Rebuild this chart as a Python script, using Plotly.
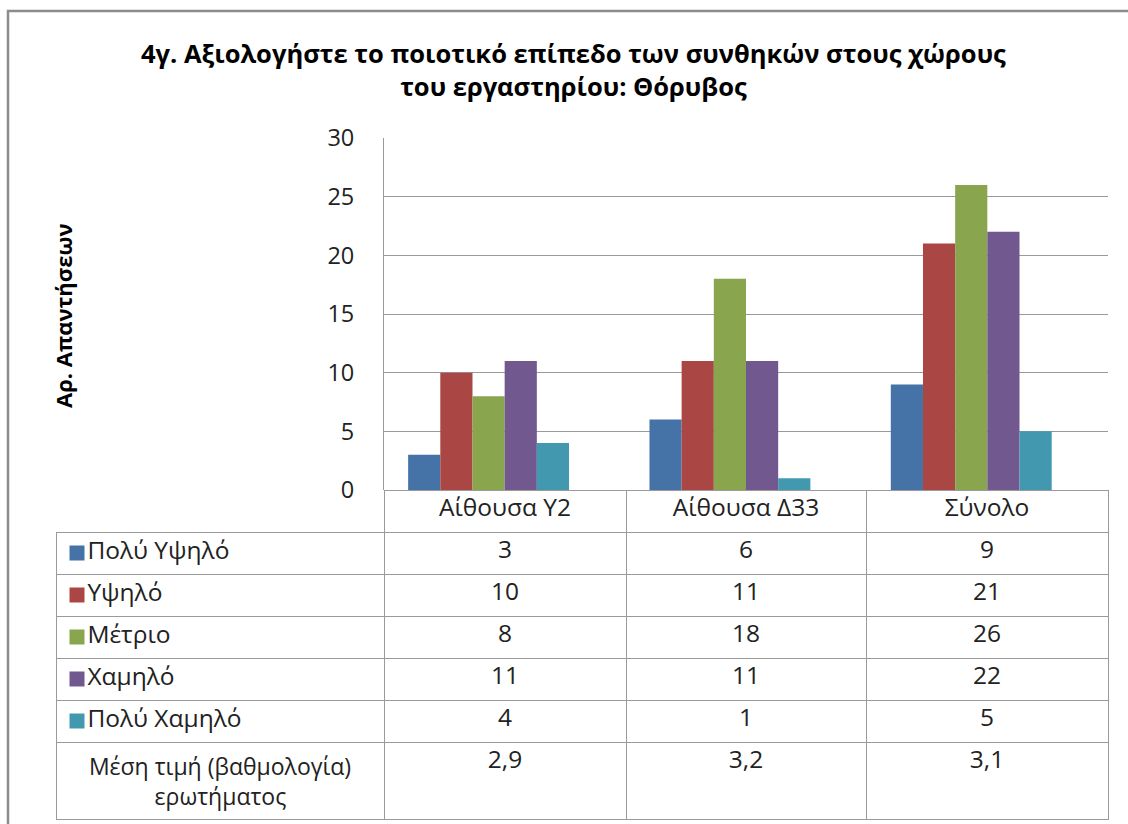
import plotly.graph_objects as go

categories = ["Αίθουσα Υ2", "Αίθουσα Δ33", "Σύνολο"]
series_names = ["Πολύ Υψηλό", "Υψηλό", "Μέτριο", "Χαμηλό", "Πολύ Χαμηλό"]
poly_ypsilo = [3, 6, 9]
ypsilo = [10, 11, 21]
metrio = [8, 18, 26]
xamilo = [11, 11, 22]
poly_xamilo = [4, 1, 5]
mean_label_lines = ["Μέση τιμή (βαθμολογία)", "ερωτήματος"]
mean_values = [2.9, 3.2, 3.1]
colors = ["#4572A7", "#AA4643", "#89A54E", "#71588F", "#4198AF"]

title_text = "4γ. Αξιολογήστε το ποιοτικό επίπεδο των συνθηκών στους χώρους<br>του εργαστηρίου: Θόρυβος"
y_title = "Αρ. Απαντήσεων"

W, H = 1128, 824
FONT = "Open Sans"
GRID = "#9a9a9a"
TXT = "#222"
TFS = 24.5  # table text size

series_values = [poly_ypsilo, ypsilo, metrio, xamilo, poly_xamilo]

fig = go.Figure()
for name, vals, col in zip(series_names, series_values, colors):
    fig.add_trace(go.Bar(x=categories, y=vals, name=name, marker=dict(color=col, line=dict(width=0)),
                         showlegend=False))
# mean series occupies a bar slot but has no fill (as in the original chart)
fig.add_trace(go.Bar(x=categories, y=mean_values, name="Μέση τιμή", opacity=0,
                     marker=dict(color="white", line=dict(width=0)),
                     showlegend=False, hoverinfo="skip"))

# legend keys + series names of the data table rows
fig.add_trace(go.Scatter(x=[21] * len(series_names), y=list(range(len(series_names))),
                         xaxis="x2", yaxis="y2", mode="markers+text",
                         text=series_names, textposition="middle right",
                         textfont=dict(family=FONT, size=TFS, color=TXT),
                         marker=dict(symbol="square", size=15, color=colors, line=dict(width=0)),
                         showlegend=False, hoverinfo="skip"))

# data table
def fmt(v):
    return ("%g" % v).replace(".", ",")

mean_label = mean_label_lines[0] + "<br>" + "&nbsp;" * 11 + mean_label_lines[1]
col_values = [[""] * len(series_names) + [mean_label]]
for i in range(len(categories)):
    col_values.append([str(s[i]) for s in series_values] + [fmt(mean_values[i])])

fig.add_trace(go.Table(
    domain=dict(x=[56 / W, 1108 / W], y=[1 - 822 / H, 1 - 490 / H]),
    columnwidth=[328, 242, 240, 242],
    header=dict(values=[""] + categories,
                fill=dict(color=["rgba(0,0,0,0)", "white", "white", "white"]),
                line=dict(color=["rgba(0,0,0,0)", GRID, GRID, GRID], width=1),
                font=dict(family=FONT, size=TFS, color=TXT),
                align="center", height=42),
    cells=dict(values=col_values,
               fill=dict(color=["rgba(0,0,0,0)", "white", "white", "white"]),
               line=dict(color=GRID, width=1),
               font=dict(family=FONT, size=[23, TFS, TFS, TFS], color=TXT),
               align="center",
               height=42),
))

fig.update_layout(
    width=W, height=H,
    margin=dict(l=0, r=0, t=0, b=0, autoexpand=False),
    paper_bgcolor="white", plot_bgcolor="rgba(0,0,0,0)",
    barmode="group", bargap=0.2, bargroupgap=0,
    font=dict(family=FONT, size=23, color=TXT),
    xaxis=dict(domain=[384 / W, 1108 / W], showticklabels=False, showgrid=False,
               showline=False, zeroline=False, ticks="", automargin=False),
    yaxis=dict(domain=[1 - 490 / H, 1 - 138 / H], range=[0, 30], dtick=5,
               showgrid=True, gridcolor=GRID, gridwidth=1,
               showline=True, linecolor=GRID, linewidth=1,
               zeroline=True, zerolinecolor=GRID, zerolinewidth=1,
               ticks="", ticklabelstandoff=24, automargin=False,
               tickfont=dict(family=FONT, size=23.5, color=TXT)),
    xaxis2=dict(domain=[56 / W, 384 / W], range=[0, 328], visible=False, automargin=False,
                fixedrange=True),
    yaxis2=dict(domain=[1 - 742 / H, 1 - 532 / H], range=[4.5, -0.5], visible=False,
                automargin=False, fixedrange=True),
    annotations=[
        dict(text="<b>%s</b>" % title_text.replace("<br>", "</b><br><b>"), x=573 / W, y=1 - 70 / H,
             xref="paper", yref="paper", xanchor="center", yanchor="middle",
             showarrow=False, font=dict(family=FONT, size=25.5, color="#000")),
        dict(text="<b>%s</b>" % y_title, x=63 / W, y=1 - 316 / H, xref="paper", yref="paper",
             xanchor="center", yanchor="middle", textangle=-90, showarrow=False,
             font=dict(family=FONT, size=22, color="#000")),
    ],
    shapes=[
        dict(type="rect", xref="paper", yref="paper", x0=8 / W, x1=1.02, y0=-0.02, y1=1 - 11 / H,
             line=dict(color="#8c8c8c", width=2.5), fillcolor="rgba(0,0,0,0)", layer="above"),
    ],
)

fig.write_html("out.html", config={"displayModeBar": False},
               post_script="document.body.style.margin='0';")
